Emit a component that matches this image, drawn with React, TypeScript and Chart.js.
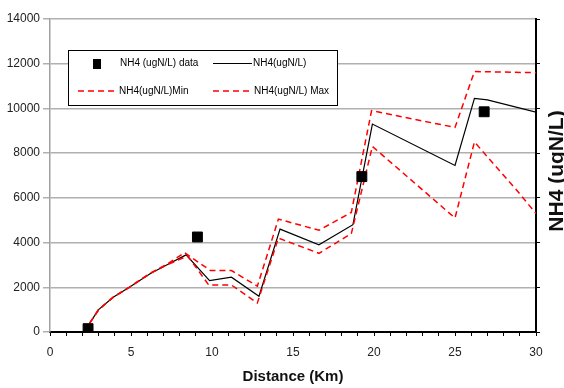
import React, { useEffect, useRef } from "react";
import { Chart, registerables } from "chart.js";
Chart.register(...registerables);

// Observed data (black squares)
const distObs = [2.35, 9.1, 19.25, 26.8];
const nh4Obs = [150, 4250, 6950, 9850];

// Model line
const distMain = [2.45, 3.0, 3.9, 4.9, 6.2, 7.2, 8.4, 9.85, 11.2, 12.9, 14.2, 16.6, 18.7, 19.9, 25.0, 26.2, 27.0, 30.0];
const nh4Main = [400, 1000, 1550, 2000, 2620, 3000, 3450, 2300, 2450, 1600, 4600, 3900, 4800, 9300, 7450, 10450, 10380, 9830];

// Min envelope
const distMin = [2.45, 3.0, 3.9, 4.9, 6.2, 7.2, 8.5, 9.8, 11.2, 12.8, 14.1, 16.6, 18.6, 19.9, 25.0, 26.2, 28.8, 30.0];
const nh4Min = [400, 1000, 1550, 2000, 2620, 3000, 3400, 2100, 2100, 1300, 4200, 3520, 4400, 8300, 5100, 8500, 6350, 5300];

// Max envelope
const distMax = [2.45, 3.0, 3.9, 4.9, 6.2, 7.2, 8.3, 9.9, 11.2, 12.8, 14.1, 16.6, 18.6, 19.85, 25.0, 26.2, 30.0];
const nh4Max = [400, 1000, 1560, 2010, 2640, 3020, 3550, 2750, 2750, 2050, 5050, 4550, 5350, 9900, 9150, 11650, 11600];

const legendLabels = ["NH4 (ugN/L) data", "NH4(ugN/L)", "NH4(ugN/L)Min", "NH4(ugN/L) Max"];
const xTitle = "Distance (Km)";
const yTitle = "NH4 (ugN/L)";

const FONT = '"Liberation Sans", Arial, sans-serif';

const pts = (xs: number[], ys: number[]) => xs.map((x, i) => ({ x, y: ys[i] }));

const decorPlugin = {
  id: "decor",
  afterDraw(chart: any) {
    const ctx = chart.ctx as CanvasRenderingContext2D;
    ctx.save();
    // legend box
    ctx.fillStyle = "#ffffff";
    ctx.fillRect(68.5, 50.5, 269, 55);
    ctx.strokeStyle = "#000";
    ctx.lineWidth = 1;
    ctx.setLineDash([]);
    ctx.strokeRect(68.5, 50.5, 269, 55);

    ctx.font = `10px ${FONT}`;
    ctx.textBaseline = "middle";
    ctx.textAlign = "left";
    ctx.fillStyle = "#000";
    const r1 = 63.5;
    const r2 = 91;
    ctx.fillRect(93, 59, 8, 10);
    ctx.fillText(legendLabels[0], 120, r1);

    ctx.beginPath();
    ctx.moveTo(213, r1);
    ctx.lineTo(252, r1);
    ctx.lineWidth = 1.2;
    ctx.strokeStyle = "#000";
    ctx.stroke();
    ctx.fillText(legendLabels[1], 253, r1);

    ctx.strokeStyle = "#ff0000";
    ctx.lineWidth = 1.5;
    ctx.setLineDash([6, 4]);
    ctx.beginPath();
    ctx.moveTo(78, r2);
    ctx.lineTo(118, r2);
    ctx.stroke();
    ctx.beginPath();
    ctx.moveTo(213, r2);
    ctx.lineTo(253, r2);
    ctx.stroke();
    ctx.setLineDash([]);
    ctx.fillText(legendLabels[2], 119, r2);
    ctx.fillText(legendLabels[3], 254, r2);

    // x title
    ctx.font = `bold 15px ${FONT}`;
    ctx.textAlign = "center";
    ctx.fillStyle = "#111";
    ctx.fillText(xTitle, 293, 377);

    // right y title
    ctx.translate(557, 171);
    ctx.rotate(-Math.PI / 2);
    ctx.font = `bold 21px ${FONT}`;
    ctx.fillText(yTitle, 0, 0);
    ctx.restore();
  },
};

export default function App() {
  const ref = useRef<HTMLCanvasElement | null>(null);
  useEffect(() => {
    if (!ref.current) return;
    const chart = new Chart(ref.current, {
      type: "line",
      data: {
        datasets: [
          {
            label: legendLabels[0],
            data: pts(distObs, nh4Obs),
            showLine: false,
            pointStyle: "rect",
            pointRadius: 7,
            pointBackgroundColor: "#000",
            pointBorderColor: "#000",
            borderColor: "#000",
            order: 0,
          },
          {
            label: legendLabels[1],
            data: pts(distMain, nh4Main),
            borderColor: "#000",
            borderWidth: 1.2,
            pointRadius: 0,
            tension: 0,
            order: 2,
          },
          {
            label: legendLabels[2],
            data: pts(distMin, nh4Min),
            borderColor: "#ff0000",
            borderWidth: 1.5,
            borderDash: [6, 4],
            pointRadius: 0,
            tension: 0,
            order: 1,
          },
          {
            label: legendLabels[3],
            data: pts(distMax, nh4Max),
            borderColor: "#ff0000",
            borderWidth: 1.5,
            borderDash: [6, 4],
            pointRadius: 0,
            tension: 0,
            order: 1,
          },
        ],
      },
      options: {
        responsive: false,
        animation: false,
        layout: { padding: { top: 19, left: 0, right: 0, bottom: 0 } },
        plugins: { legend: { display: false }, tooltip: { enabled: false } },
        scales: {
          x: {
            type: "linear",
            position: "bottom",
            min: 0,
            max: 30,
            afterFit: (s: any) => {
              s.height = 56;
            },
            ticks: {
              stepSize: 1,
              autoSkip: false,
              maxRotation: 0,
              padding: 9,
              color: "#222",
              font: { family: FONT, size: 12 },
              callback: (v: any) => (Number(v) % 5 === 0 ? String(v) : ""),
            },
            grid: { drawOnChartArea: false, drawTicks: true, tickLength: 4, color: "#000", lineWidth: 1 },
            border: { color: "#000", width: 2 },
          },
          y: {
            position: "left",
            min: 0,
            max: 14000,
            afterFit: (s: any) => {
              s.width = 50;
            },
            ticks: {
              stepSize: 2000,
              padding: 3,
              color: "#222",
              font: { family: FONT, size: 12 },
              callback: (v: any) => String(v),
            },
            grid: { color: "#b0b0b0", lineWidth: 1.5, tickLength: 7 },
            border: { color: "#a0a0a0", width: 1.5 },
          },
          y2: {
            position: "right",
            min: 0,
            max: 14000,
            afterFit: (s: any) => {
              s.width = 28;
            },
            ticks: { stepSize: 2000, display: false },
            grid: { drawOnChartArea: false, drawTicks: true, tickLength: 4, color: "#000", lineWidth: 1 },
            border: { color: "#000", width: 2 },
          },
        },
      },
      plugins: [decorPlugin],
    });
    return () => chart.destroy();
  }, []);
  return (
    <div style={{ position: "absolute", left: 0, top: 0, width: 564, height: 388, background: "#fff" }}>
      <canvas ref={ref} width={564} height={388} style={{ display: "block" }} />
    </div>
  );
}
